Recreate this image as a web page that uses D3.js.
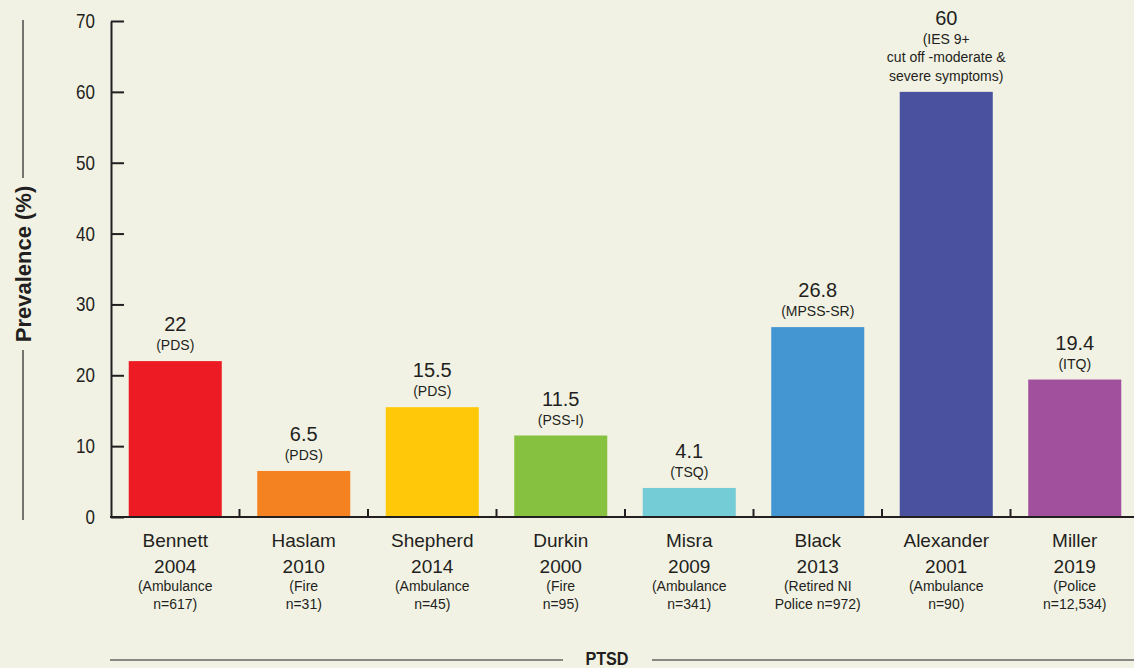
<!DOCTYPE html>
<html>
<head>
<meta charset="utf-8">
<script src="https://cdn.jsdelivr.net/npm/d3@7"></script>
<style>
    body { margin: 0; background: #f2f2e4; }
    svg { display: block; }
    text { fill: #231f20; }
</style>
</head>
<body>
<div id="chart"></div>
<script>
// data
const studies = ["Bennett", "Haslam", "Shepherd", "Durkin", "Misra", "Black", "Alexander", "Miller"];
const years = ["2004", "2010", "2014", "2000", "2009", "2013", "2001", "2019"];
const samples = [
    ["(Ambulance", "n=617)"],
    ["(Fire", "n=31)"],
    ["(Ambulance", "n=45)"],
    ["(Fire", "n=95)"],
    ["(Ambulance", "n=341)"],
    ["(Retired NI", "Police n=972)"],
    ["(Ambulance", "n=90)"],
    ["(Police", "n=12,534)"]
];
const prevalence = [22, 6.5, 15.5, 11.5, 4.1, 26.8, 60, 19.4];
const valueLabels = ["22", "6.5", "15.5", "11.5", "4.1", "26.8", "60", "19.4"];
const measures = [
    ["(PDS)"],
    ["(PDS)"],
    ["(PDS)"],
    ["(PSS-I)"],
    ["(TSQ)"],
    ["(MPSS-SR)"],
    ["(IES 9+", "cut off -moderate &", "severe symptoms)"],
    ["(ITQ)"]
];
const colors = ["#ed1c24", "#f58220", "#ffc90a", "#86c240", "#74cdd6", "#4496d2", "#4a52a0", "#a1509e"];
const yTicks = [0, 10, 20, 30, 40, 50, 60, 70];

const width = 1134;
const height = 668;
const font = "'Liberation Sans', Arial, sans-serif";

const rows = studies.map((s, i) => ({
    study: s,
    year: years[i],
    sample: samples[i],
    value: prevalence[i],
    label: valueLabels[i],
    measure: measures[i],
    color: colors[i]
}));

const svg = d3.select("#chart").append("svg")
    .attr("width", width)
    .attr("height", height);

const x = d3.scaleBand()
    .domain(studies)
    .range([111, 1139])
    .paddingInner(0.276)
    .paddingOuter(0.138);

const y = d3.scaleLinear()
    .domain([0, 70])
    .range([517, 21]);

// bars
svg.append("g")
    .selectAll("rect")
    .data(rows)
    .join("rect")
    .attr("x", d => x(d.study))
    .attr("y", d => y(d.value))
    .attr("width", x.bandwidth())
    .attr("height", d => y(0) - y(d.value))
    .attr("fill", d => d.color);

// y axis, ticks point into the plot
const yAxis = svg.append("g")
    .attr("transform", "translate(111,0)")
    .call(d3.axisRight(y).tickValues(yTicks).tickSize(13).tickSizeOuter(0).tickFormat(""));
yAxis.select(".domain").attr("stroke", "#231f20").attr("stroke-width", 2);
yAxis.selectAll(".tick line").attr("stroke", "#231f20").attr("stroke-width", 2);

// tick labels, squeezed a little to look condensed
svg.append("g")
    .selectAll("text")
    .data(yTicks)
    .join("text")
    .attr("transform", d => `translate(95,${y(d) + 7}) scale(0.85,1)`)
    .attr("text-anchor", "end")
    .attr("font-family", font)
    .attr("font-size", 20)
    .attr("fill", "#2b2b2b")
    .text(d => d);

// x axis with small upward ticks between categories
svg.append("line")
    .attr("x1", 110).attr("x2", width)
    .attr("y1", y(0)).attr("y2", y(0))
    .attr("stroke", "#231f20").attr("stroke-width", 2);

svg.append("g")
    .selectAll("line")
    .data(studies.slice(1))
    .join("line")
    .attr("x1", d => x(d) - x.step() * x.paddingInner() / 2)
    .attr("x2", d => x(d) - x.step() * x.paddingInner() / 2)
    .attr("y1", y(0))
    .attr("y2", y(0) - 8)
    .attr("stroke", "#231f20").attr("stroke-width", 2);

// category labels
const cat = svg.append("g")
    .attr("text-anchor", "middle")
    .attr("font-family", font)
    .selectAll("g")
    .data(rows)
    .join("g")
    .attr("transform", d => `translate(${x(d.study) + x.bandwidth() / 2},0)`);

cat.append("text").attr("y", 547).attr("font-size", 19).text(d => d.study);
cat.append("text").attr("y", 573).attr("font-size", 19).text(d => d.year);
cat.append("text").attr("y", 591).attr("font-size", 14).text(d => d.sample[0]);
cat.append("text").attr("y", 609).attr("font-size", 14).text(d => d.sample[1]);

// value + measure labels above bars
const lab = svg.append("g")
    .attr("text-anchor", "middle")
    .attr("font-family", font)
    .selectAll("g")
    .data(rows)
    .join("g")
    .attr("transform", d => `translate(${x(d.study) + x.bandwidth() / 2},${y(d.value) - 11})`);

lab.each(function (d) {
    const g = d3.select(this);
    const n = d.measure.length;
    d.measure.forEach((m, k) => {
        g.append("text")
            .attr("y", -(n - 1 - k) * 18.5)
            .attr("font-size", 14)
            .text(m);
    });
    g.append("text")
        .attr("y", -(n - 1) * 18.5 - 19)
        .attr("font-size", 20)
        .text(d.label);
});

// y title with rules
svg.append("text")
    .attr("transform", "translate(31,264) rotate(-90)")
    .attr("text-anchor", "middle")
    .attr("font-family", font)
    .attr("font-weight", "bold")
    .attr("font-size", 22)
    .text("Prevalence (%)");

svg.append("line").attr("x1", 23).attr("x2", 23).attr("y1", 20).attr("y2", 178)
    .attr("stroke", "#231f20").attr("stroke-width", 1.2);
svg.append("line").attr("x1", 23).attr("x2", 23).attr("y1", 350).attr("y2", 520)
    .attr("stroke", "#231f20").attr("stroke-width", 1.2);

// bottom group label
svg.append("text")
    .attr("transform", "translate(607,665) scale(0.85,1)")
    .attr("text-anchor", "middle")
    .attr("font-family", font)
    .attr("font-weight", "bold")
    .attr("font-size", 19)
    .text("PTSD");

svg.append("line").attr("x1", 110).attr("x2", 563).attr("y1", 660).attr("y2", 660)
    .attr("stroke", "#231f20").attr("stroke-width", 1.2);
svg.append("line").attr("x1", 652).attr("x2", width).attr("y1", 660).attr("y2", 660)
    .attr("stroke", "#231f20").attr("stroke-width", 1.2);
</script>
</body>
</html>
